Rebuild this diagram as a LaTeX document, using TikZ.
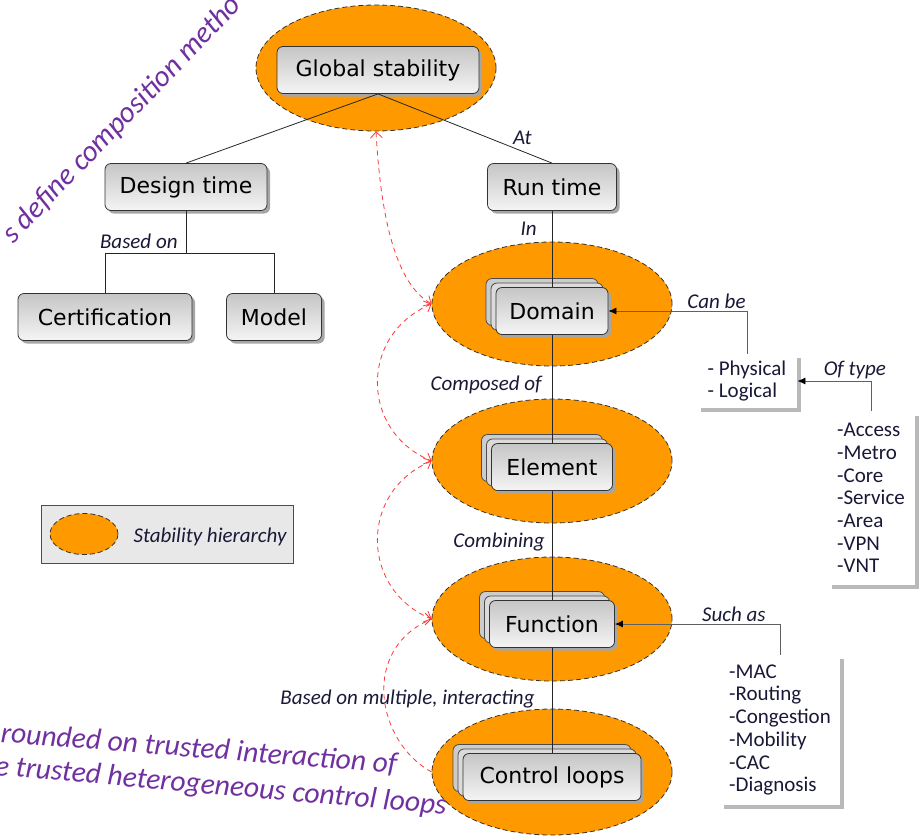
\documentclass[tikz,border=0pt]{standalone}
\usepackage{fontspec}
\setmainfont{DejaVu Sans}
\newfontfamily\labelfont{Carlito}
\usetikzlibrary{shapes.geometric, arrows.meta, shadows, calc}
\definecolor{hierorange}{RGB}{255,153,0}
\definecolor{notepurple}{RGB}{112,48,160}
\definecolor{stabred}{RGB}{255,55,55}
\definecolor{labelink}{RGB}{25,25,55}
\tikzstyle{hierarchy} = [ellipse, draw=black!80, dash pattern=on 2.5pt off 1.5pt, fill=hierorange, inner sep=0pt, minimum width=120pt]
\tikzstyle{concept} = [rectangle, rounded corners=3pt, draw=black!80, top color=gray!45, bottom color=gray!8, minimum height=23.5pt, inner xsep=4pt, font=\fontsize{11}{13}\selectfont, drop shadow={shadow xshift=1.5pt, shadow yshift=-1.5pt, fill=gray!70, opacity=1}]
\tikzstyle{stacked} = [concept, general shadow={shadow xshift=-5pt, shadow yshift=4.5pt, fill=gray!40, draw=black!70}, general shadow={shadow xshift=-2.5pt, shadow yshift=2.25pt, fill=gray!28, draw=black!70}]
\tikzstyle{listbox} = [rectangle, fill=white, align=left, inner xsep=4pt, font=\labelfont\fontsize{10.5}{11.35}\selectfont, text=labelink, drop shadow={shadow xshift=2pt, shadow yshift=-2pt, fill=gray!55, opacity=1}]
\tikzstyle{linklabel} = [font=\labelfont\itshape\fontsize{10.5}{12}\selectfont, inner sep=1pt, text=labelink]
\tikzstyle{link} = [draw=black!85]
\tikzstyle{branch} = [draw=gray!75!black, -{Latex[length=4pt, width=3.5pt, color=black]}]
\tikzstyle{stability} = [draw=stabred, dash pattern=on 2.5pt off 2pt, <->, >={Straight Barb[length=3pt, width=6pt]}]
\tikzstyle{note} = [text=notepurple, font=\labelfont\itshape\fontsize{14.8}{17}\selectfont, inner sep=0pt]

\begin{document}
\begin{tikzpicture}[x=0.5pt, y=-0.5pt]
\useasboundingbox (0,0) rectangle (924,836);

% --- Stability hierarchy ---
\node (globalhier) [hierarchy, minimum height=63pt] at (376,68) {};
\node (domainhier) [hierarchy, minimum height=62pt] at (552,304) {};
\node (elementhier) [hierarchy, minimum height=62pt] at (552,461) {};
\node (functionhier) [hierarchy, minimum height=62pt] at (552,619) {};
\node (loopshier) [hierarchy, minimum height=63pt] at (552,772) {};

% --- Design time / Run time ---
\node (globalbox) [concept, minimum width=101pt] at (378,70) {Global stability};
\node (designbox) [concept, minimum width=81pt] at (186,187) {Design time};
\node (runbox) [concept, minimum width=64.5pt] at (552,187) {Run time};
\node (certbox) [concept, minimum width=87pt] at (105,317) {Certification};
\node (modelbox) [concept, minimum width=47.5pt] at (274,317) {Model};

% --- Run time chain ---
\node (domainbox) [stacked, minimum width=56pt] at (552,311) {Domain};
\node (elementbox) [stacked, minimum width=60.5pt] at (552,467) {Element};
\node (functionbox) [stacked, minimum width=62.5pt] at (552,624) {Function};
\node (loopsbox) [stacked, minimum width=89pt] at (552,777) {Control loops};

% --- Lists ---
\node (physlist) [listbox, minimum width=50pt, minimum height=26pt] at (747,381) {- Physical\\- Logical};
\node (arealist) [listbox, minimum width=43.5pt, minimum height=86.5pt] at (871,498) {-Access\\-Metro\\-Core\\-Service\\-Area\\-VPN\\-VNT};
\node (funclist) [listbox, minimum width=60pt, minimum height=75pt] at (780,730) {-MAC\\-Routing\\-Congestion\\-Mobility\\-CAC\\-Diagnosis};

% --- Legend ---
\node (legendbox) [rectangle, draw=black!70, fill=gray!18, minimum width=126pt, minimum height=29pt] at (167,534) {};
\node (legendhier) [hierarchy, minimum width=34pt, minimum height=20.5pt] at (84,534) {};
\node (legendtext) [linklabel] at (210,537) {Stability hierarchy};

% --- Connections ---
\draw [link] (globalbox.south) -- (designbox.north);
\draw [link] (globalbox.south) -- node[linklabel, pos=0.83, anchor=south, yshift=2pt] {At} (runbox.north);
\draw [link] (designbox.south) -- ++(0,42) coordinate (designfork) node[linklabel, anchor=south east, xshift=-3pt, yshift=1pt] {Based on};
\draw [link] (certbox.north) |- (designfork) -| (modelbox.north);

\draw [link] (runbox.south) -- node[linklabel, pos=0.24, anchor=east, xshift=-6.5pt] {In} (domainbox.north);
\draw [link] (domainbox.south) -- node[linklabel, pos=0.46, anchor=east, xshift=-4pt] {Composed of} (elementbox.north);
\draw [link] (elementbox.south) -- node[linklabel, pos=0.47, anchor=east, xshift=-2.5pt] {Combining} (functionbox.north);
\draw [link] (functionbox.south) -- node[linklabel, pos=0.49, anchor=east, xshift=-7.5pt] {Based on multiple, interacting} (loopsbox.north);

% Lists to chain
\draw [branch] (physlist.north) |- node[linklabel, pos=0.61, anchor=south] {Can be} (domainbox.east);
\draw [branch] (arealist.north) |- node[linklabel, pos=0.61, anchor=south] {Of type} (physlist.east);
\draw [branch] (funclist.north) |- node[linklabel, pos=0.64, anchor=south] {Such as} (functionbox.east);

% Stability links
\draw [stability] (globalhier.south) .. controls +(5,90) and +(-35,-20) .. (domainhier.west);
\draw [stability] (domainhier.west) .. controls +(-72,30) and +(-72,-30) .. (elementhier.west);
\draw [stability] (elementhier.west) .. controls +(-72,30) and +(-72,-30) .. (functionhier.west);
\draw [stability, -] (loopshier.west) .. controls +(-55,-30) and +(-72,30) .. (functionhier.west);
\draw [stability, <-] (functionhier.west) -- +(-0.1,0);

% --- Notes ---
\node (compnote) [note, rotate=46] at (122,120) {s define composition metho};
\node (trustnote) [note, rotate=-4.5, anchor=base west] at (0,742) {rounded on trusted interaction of};
\node (loopsnote) [note, rotate=-5, anchor=base west] at (-6,775) {e trusted heterogeneous control loops};

\end{tikzpicture}
\end{document}
